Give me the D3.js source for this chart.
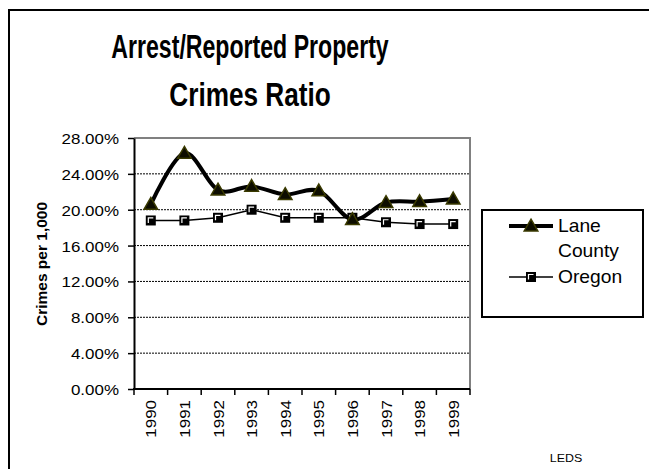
<!DOCTYPE html>
<html>
<head>
<meta charset="utf-8">
<script src="https://cdn.jsdelivr.net/npm/d3@7"></script>
<style>
  html, body { margin: 0; padding: 0; background: #fff; }
  svg { display: block; }
  text { font-family: "Liberation Sans", Arial, sans-serif; fill: #000; }
</style>
</head>
<body>
<svg id="chart" width="649" height="469"></svg>
<script>
const years = ["1990", "1991", "1992", "1993", "1994", "1995", "1996", "1997", "1998", "1999"];
const laneCounty = [20.6, 26.3, 22.2, 22.6, 21.7, 22.1, 18.9, 20.8, 20.9, 21.2];
const oregon = [18.8, 18.8, 19.1, 20.0, 19.1, 19.1, 19.1, 18.6, 18.4, 18.4];
const yTicks = [0, 4, 8, 12, 16, 20, 24, 28];
const titleLines = ["Arrest/Reported Property", "Crimes Ratio"];
const seriesNames = [["Lane", "County"], ["Oregon"]];
const yAxisTitle = "Crimes per 1,000";
const sourceNote = "LEDS";

const svg = d3.select("#chart");
const W = 649, H = 469;

// outer frame (left and top edges visible)
svg.append("path")
  .attr("d", `M9,${H} V10 H${W}`)
  .attr("fill", "none").attr("stroke", "#000").attr("stroke-width", 2);

// title
const titleScale = [0.68, 0.77];
titleLines.forEach((t, i) => {
  svg.append("text")
    .attr("transform", `translate(250,${58 + i * 48}) scale(${titleScale[i]},1)`)
    .attr("text-anchor", "middle")
    .style("font-size", "34px").style("font-weight", "bold")
    .text(t);
});

const x = d3.scaleBand().domain(years).range([134, 470]);
const y = d3.scaleLinear().domain([0, 28]).range([389, 138]);
const cx = d => x(d) + x.bandwidth() / 2;
const SX = 1.13;

// gridlines
svg.append("g").selectAll("line")
  .data(yTicks.filter(v => v > 0 && v < 28))
  .join("line")
  .attr("x1", x.range()[0]).attr("x2", x.range()[1])
  .attr("y1", d => y(d)).attr("y2", d => y(d))
  .attr("stroke", "#000").attr("stroke-width", 1)
  .attr("stroke-dasharray", "2,1");

// plot area border (top and right, gray)
svg.append("path")
  .attr("d", `M${x.range()[0]},${y(28)} H${x.range()[1]} V${y(0)}`)
  .attr("fill", "none").attr("stroke", "#808080").attr("stroke-width", 2);

// y axis
const yAxis = svg.append("g")
  .attr("transform", `translate(${x.range()[0]},0)`)
  .call(d3.axisLeft(y).tickValues(yTicks).tickSize(6).tickSizeOuter(0)
    .tickFormat(d => d.toFixed(2) + "%"));
yAxis.select(".domain").attr("stroke", "#000").attr("stroke-width", 2);
yAxis.selectAll(".tick line").attr("stroke", "#000").attr("stroke-width", 1.5);
yAxis.selectAll(".tick text")
  .attr("x", null).attr("dy", null)
  .attr("transform", `translate(-15,5.5) scale(${SX},1)`)
  .style("font-size", "15px").style("font-family", "Liberation Sans, Arial, sans-serif")
  .attr("fill", "#000");

// x axis
const xg = svg.append("g");
xg.append("line")
  .attr("x1", x.range()[0] - 1).attr("x2", x.range()[1])
  .attr("y1", y(0)).attr("y2", y(0))
  .attr("stroke", "#000").attr("stroke-width", 2);
const bounds = years.map(d => x(d)).concat([x(years[years.length - 1]) + x.bandwidth()]);
xg.selectAll("line.tk").data(bounds).join("line").attr("class", "tk")
  .attr("x1", d => d).attr("x2", d => d)
  .attr("y1", y(0)).attr("y2", y(0) + 6)
  .attr("stroke", "#000").attr("stroke-width", 1.5);
xg.selectAll("text").data(years).join("text")
  .attr("transform", d => `translate(${cx(d) + 5.5},${y(0) + 11}) rotate(-90) scale(${SX},1)`)
  .attr("text-anchor", "end")
  .style("font-size", "15px")
  .text(d => d);

// y axis title
svg.append("text")
  .attr("transform", `translate(47,264) rotate(-90)`)
  .attr("text-anchor", "middle")
  .style("font-size", "15.5px").style("font-weight", "bold")
  .text(yAxisTitle);

// series
const laneLine = d3.line().x((d, i) => cx(years[i])).y(d => y(d))
  .curve(d3.curveCardinal.tension(0));
const orLine = d3.line().x((d, i) => cx(years[i])).y(d => y(d));

svg.append("path").datum(oregon).attr("d", orLine)
  .attr("fill", "none").attr("stroke", "#000").attr("stroke-width", 1.5);
svg.append("path").datum(laneCounty).attr("d", laneLine)
  .attr("fill", "none").attr("stroke", "#000").attr("stroke-width", 4)
  .attr("stroke-linejoin", "round");

const tri = d3.symbol(d3.symbolTriangle, 80);
function drawSquare(g, px, py) {
  g.append("rect").attr("x", px - 5).attr("y", py - 5)
    .attr("width", 10).attr("height", 10)
    .attr("fill", "#000");
  g.append("path")
    .attr("d", `M${px - 2.5},${py + 2.5} V${py - 2.5} H${px + 2.5}`)
    .attr("fill", "none").attr("stroke", "#fff").attr("stroke-width", 1.2);
}
function drawTri(g, px, py) {
  g.append("path").attr("d", tri).attr("transform", `translate(${px},${py + 1})`)
    .attr("fill", "#0d0d00").attr("stroke", "#3a3a00").attr("stroke-width", 1.5);
}
const markers = svg.append("g");
oregon.forEach((v, i) => drawSquare(markers, cx(years[i]), y(v)));
laneCounty.forEach((v, i) => drawTri(markers, cx(years[i]), y(v)));

// legend
const lg = svg.append("g");
lg.append("rect").attr("x", 482).attr("y", 210).attr("width", 161).attr("height", 107)
  .attr("fill", "#fff").attr("stroke", "#000").attr("stroke-width", 2);
lg.append("line").attr("x1", 509).attr("x2", 553).attr("y1", 226).attr("y2", 226)
  .attr("stroke", "#000").attr("stroke-width", 4);
drawTri(lg, 531, 226);
lg.append("line").attr("x1", 509).attr("x2", 553).attr("y1", 277).attr("y2", 277)
  .attr("stroke", "#000").attr("stroke-width", 1.5);
drawSquare(lg, 531, 277);
const legendLines = [[seriesNames[0][0], 232], [seriesNames[0][1], 257], [seriesNames[1][0], 283]];
legendLines.forEach(([t, by]) => {
  lg.append("text").attr("transform", `translate(558,${by}) scale(1.1,1)`)
    .style("font-size", "17.5px").text(t);
});

// source note
svg.append("text")
  .attr("transform", `translate(566,462) scale(${SX},1)`)
  .attr("text-anchor", "middle")
  .style("font-size", "11px")
  .text(sourceNote);
</script>
</body>
</html>
